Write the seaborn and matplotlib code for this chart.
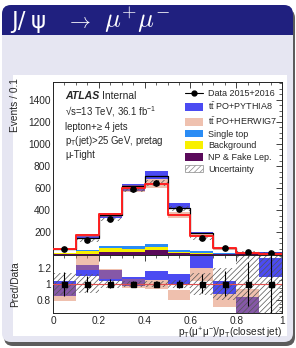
import numpy as np
import pandas as pd
import matplotlib
matplotlib.use("Agg")
import matplotlib.pyplot as plt
import seaborn as sns
from matplotlib.patches import FancyBboxPatch, Rectangle, Patch
from matplotlib.lines import Line2D
from matplotlib.ticker import FixedLocator, MultipleLocator, FuncFormatter
from matplotlib.transforms import IdentityTransform

# ---------------- data ----------------
edges = [0.0, 0.1, 0.2, 0.3, 0.4, 0.5, 0.6, 0.7, 0.8, 0.9, 1.0]
centers = [0.05, 0.15, 0.25, 0.35, 0.45, 0.55, 0.65, 0.75, 0.85, 0.95]
data = [50, 132, 318, 592, 648, 416, 151, 57, 24, 15]
data_err_rel = [0.15, 0.10, 0.06, 0.04, 0.04, 0.05, 0.12, 0.16, 0.28, 0.40]
pythia = [47, 151, 353, 618, 714, 425, 190, 60, 18, 17]
herwig = [51, 172, 368, 603, 642, 353, 166, 60, 15, 6]
single_top = [3, 10, 18, 24, 24, 18, 15, 4, 2, 1]
background = [10, 24, 39, 30, 27, 12, 6, 4, 2, 1]
np_fake = [3, 9, 24, 21, 42, 15, 9, 3, 1, 1]
# ratio Pred/Data bands
py_lo = [0.85, 1.10, 1.03, 0.97, 1.05, 0.99, 1.20, 0.87, 0.50, 1.08]
py_hi = [1.03, 1.24, 1.17, 1.08, 1.16, 1.12, 1.36, 1.03, 0.83, 1.33]
hw_lo = [0.78, 1.18, 1.06, 0.95, 0.93, 0.80, 1.03, 0.70, 0.50, 0.30]
hw_hi = [1.00, 1.38, 1.19, 1.06, 1.05, 0.92, 1.20, 0.87, 0.93, 0.50]
unc_lo = [0.86, 0.88, 0.95, 0.96, 0.96, 0.95, 0.86, 0.80, 0.55, 0.55]
unc_hi = [1.14, 1.12, 1.05, 1.04, 1.04, 1.05, 1.14, 1.20, 1.45, 1.45]

legend_labels = ["Data 2015+2016", r"t$\bar{\mathrm{t}}$ PO+PYTHIA8", r"t$\bar{\mathrm{t}}$ PO+HERWIG7",
                 "Single top", "Background", "NP & Fake Lep.", "Uncertainty"]

# ---------------- style ----------------
sns.set_style("white")
plt.rcParams['font.family'] = ['Liberation Sans', 'DejaVu Sans']
plt.rcParams['mathtext.fontset'] = 'custom'
plt.rcParams['mathtext.rm'] = 'Liberation Sans'
plt.rcParams['mathtext.it'] = 'Liberation Sans:italic'
plt.rcParams['mathtext.bf'] = 'Liberation Sans:bold'
plt.rcParams['hatch.linewidth'] = 0.5

C_BLUE = '#4b4bf2'
C_SALMON = (0.85, 0.42, 0.25, 0.42)
C_SALMON_LEG = '#efc1af'
C_ST = '#2a8cf5'
C_BG = '#f8f000'
C_NP = '#5a0a5a'

W, H = 296, 348
fig = plt.figure(figsize=(W / 100, H / 100), dpi=100)
fig.patch.set_facecolor('white')

def px(x, y, w, h):
    return (x, H - y - h, w, h)

def add_deco(p):
    p.set_zorder(-10)
    fig.patches.append(p)

x0, y0, w0, h0 = px(4, 9, 291, 337)
add_deco(FancyBboxPatch((x0, y0), w0, h0, boxstyle='round,pad=0,rounding_size=9',
                        fc='#5c5c5c', ec='none', transform=IdentityTransform(), figure=fig))
x0, y0, w0, h0 = px(2, 5, 291, 337)
add_deco(FancyBboxPatch((x0, y0), w0, h0, boxstyle='round,pad=0,rounding_size=9',
                        fc='#e6e6f2', ec='none', transform=IdentityTransform(), figure=fig))
x0, y0, w0, h0 = px(2, 5, 291, 30)
add_deco(FancyBboxPatch((x0, y0), w0, h0, boxstyle='round,pad=0,rounding_size=9',
                        fc='#20207f', ec='none', transform=IdentityTransform(), figure=fig))
x0, y0, w0, h0 = px(2, 22, 291, 13)
add_deco(Rectangle((x0, y0), w0, h0, fc='#20207f', ec='none',
                   transform=IdentityTransform(), figure=fig))
x0, y0, w0, h0 = px(13, 75, 274, 261)
add_deco(Rectangle((x0, y0), w0, h0, fc='white', ec='none',
                   transform=IdentityTransform(), figure=fig))

fig.text(11 / W, 1 - 28 / H, "J/", color='white', fontsize=16.5, family='DejaVu Sans', va='baseline')
fig.text(31 / W, 1 - 28 / H, "ψ", color='white', fontsize=16.5, family='DejaVu Sans', va='baseline')
fig.text(66 / W, 1 - 28 / H, r"$\rightarrow$", color='white', fontsize=15, va='baseline', math_fontfamily='cm')
fig.text(104 / W, 1 - 28 / H, r"$\mu^{+}\mu^{-}$", color='white', fontsize=19, va='baseline', math_fontfamily='cm')

# ---------------- axes ----------------
L, R = 53, 282
T1, B1 = 82, 254.5
B2 = 313
ax = fig.add_axes([L / W, 1 - B1 / H, (R - L) / W, (B1 - T1) / H])
rax = fig.add_axes([L / W, 1 - B2 / H, (R - L) / W, (B2 - B1) / H], sharex=ax)

data_a = np.array(data, float)
err_a = np.array(data_err_rel)

stack_df = pd.DataFrame({
    'x': centers * 3,
    'w': single_top + background + np_fake,
    'proc': ['Single top'] * 10 + ['Background'] * 10 + ['NP & Fake Lep.'] * 10,
})
sns.histplot(data=stack_df, x='x', weights='w', hue='proc', bins=edges, multiple='stack',
             hue_order=['Single top', 'Background', 'NP & Fake Lep.'],
             palette={'Single top': C_ST, 'Background': C_BG, 'NP & Fake Lep.': C_NP},
             element='bars', linewidth=0, alpha=1, legend=False, ax=ax)

ax.bar(centers, data_a * (np.array(py_hi) - np.array(py_lo)), bottom=data_a * np.array(py_lo),
       width=0.1, color=C_BLUE, linewidth=0, zorder=3)
ax.bar(centers, data_a * (np.array(hw_hi) - np.array(hw_lo)), bottom=data_a * np.array(hw_lo),
       width=0.1, color=C_SALMON, linewidth=0, zorder=3.1)
ax.bar(centers, data_a * (np.array(unc_hi) - np.array(unc_lo)), bottom=data_a * np.array(unc_lo),
       width=0.1, fill=False, hatch='//////', edgecolor='#555555', linewidth=0, zorder=3.2)

sns.histplot(x=centers, weights=pythia, bins=edges, element='step', fill=False,
             color='black', linewidth=0.9, ax=ax, zorder=4)
sns.histplot(x=centers, weights=herwig, bins=edges, element='step', fill=False,
             color='#ff2020', linewidth=1.4, ax=ax, zorder=4.5)
ax.errorbar(centers, data, yerr=data_a * err_a, fmt='o', color='black', ms=3.8,
            elinewidth=0.8, capsize=0, zorder=6)

ax.set_xlim(0, 1)
ax.set_ylim(0, 1560)
ax.set_xlabel('')
ax.set_ylabel('Events / 0.1', fontsize=7.3, loc='top')
ax.yaxis.set_label_coords(-0.145, 1.02)
ax.yaxis.set_major_locator(FixedLocator([0, 200, 400, 600, 800, 1000, 1200, 1400]))
ax.yaxis.set_minor_locator(MultipleLocator(50))
ax.yaxis.set_major_formatter(FuncFormatter(lambda v, p: '' if v == 0 else f'{v:g}'))
ax.xaxis.set_major_locator(MultipleLocator(0.2))
ax.xaxis.set_minor_locator(MultipleLocator(0.05))
plt.setp(ax.get_xticklabels(), visible=False)

tx = (65 - L) / (R - L)
def ay(y):
    return (B1 - y) / (B1 - T1)
ax.text(tx, ay(96), "ATLAS", fontsize=7.6, fontweight='bold', fontstyle='italic',
        transform=ax.transAxes, va='center')
ax.text(tx + 0.16, ay(96), "Internal", fontsize=7.4, transform=ax.transAxes, va='center')
ax.text(tx, ay(111.5), r"√s=13 TeV, 36.1 fb$^{-1}$", fontsize=6.9, transform=ax.transAxes, va='center')
ax.text(tx, ay(127), "lepton+≥ 4 jets", fontsize=6.9, transform=ax.transAxes, va='center')
ax.text(tx, ay(141.5), r"p$_{\mathrm{T}}$(jet)>25 GeV, pretag", fontsize=6.9, transform=ax.transAxes, va='center')
ax.text(tx, ay(155), "μ-Tight", fontsize=6.9, transform=ax.transAxes, va='center')

handles = [
    Line2D([], [], color='black', marker='o', ms=3.5, lw=0.8),
    Patch(fc=C_BLUE, ec='none'),
    Patch(fc=C_SALMON_LEG, ec='none'),
    Patch(fc=C_ST, ec='none'),
    Patch(fc=C_BG, ec='none'),
    Patch(fc=C_NP, ec='none'),
    Patch(fc='white', ec='#888888', hatch='//////', lw=0.5),
]
ax.legend(handles, legend_labels, loc='upper left',
          bbox_to_anchor=((185 - L) / (R - L), ay(89)), frameon=False, fontsize=6.5,
          handlelength=2.0, handleheight=0.95, labelspacing=0.3, handletextpad=0.55,
          borderpad=0, borderaxespad=0)

# ---------------- ratio ----------------
rax.bar(centers, np.array(py_hi) - np.array(py_lo), bottom=py_lo, width=0.1,
        color=C_BLUE, linewidth=0, zorder=2)
rax.bar(centers, np.array(hw_hi) - np.array(hw_lo), bottom=hw_lo, width=0.1,
        color=C_SALMON, linewidth=0, zorder=2.1)
rax.bar(centers, np.array(unc_hi) - np.array(unc_lo), bottom=unc_lo, width=0.1,
        fill=False, hatch='//////', edgecolor='#555555', linewidth=0, zorder=2.2)
rax.axhline(1, color='#e05050', lw=0.8, zorder=3)
rax.errorbar(centers, np.ones(10), yerr=err_a, fmt='s', color='black', ms=3.6,
             elinewidth=0.8, capsize=0, zorder=5)
rax.set_ylim(0.63, 1.37)
rax.set_xlim(0, 1)
rax.yaxis.set_major_locator(FixedLocator([0.8, 1.0, 1.2]))
rax.yaxis.set_minor_locator(MultipleLocator(0.05))
rax.yaxis.set_major_formatter(FuncFormatter(lambda v, p: f'{v:g}'))
rax.xaxis.set_major_formatter(FuncFormatter(lambda v, p: f'{v:g}'))
rax.set_ylabel('Pred/Data', fontsize=7.3)
rax.yaxis.set_label_coords(-0.145, 0.5)
rax.set_xlabel(r"p$_{\mathrm{T}}$(μ$^{+}$μ$^{-}$)/p$_{\mathrm{T}}$(closest jet)", fontsize=7.3)
rax.xaxis.set_label_coords(1.0, -0.35)
rax.xaxis.label.set_ha('right')
rax.xaxis.label.set_va('center')

for a in (ax, rax):
    a.tick_params(which='both', direction='in', top=True, right=True, labelsize=7.3, pad=1.5,
                  color='#222222')
    a.tick_params(which='major', length=4.5, width=0.6)
    a.tick_params(which='minor', length=2.3, width=0.5)
    for s in a.spines.values():
        s.set_linewidth(0.7)
        s.set_color('#222222')
    a.set_facecolor('white')
rax.tick_params(axis='x', which='major', pad=2)

fig.savefig('out.png', dpi=100)
